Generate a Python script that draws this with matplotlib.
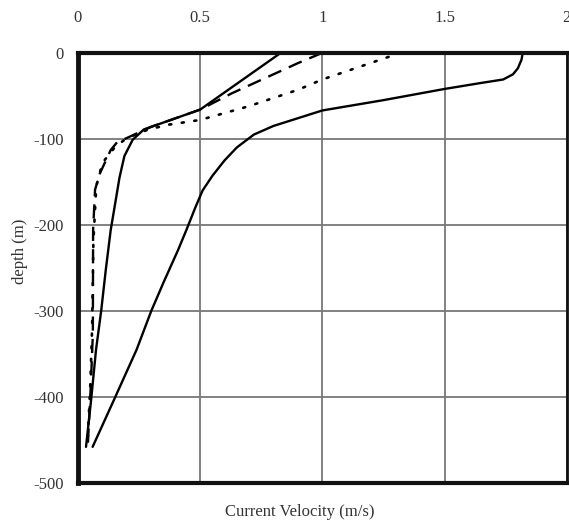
import matplotlib
matplotlib.use("Agg")
import matplotlib.pyplot as plt

# Velocity profiles (m/s) against depth (m)
depth_a = [0, -8, -18, -25, -31, -35, -42, -55, -67, -76, -85, -95, -110, -125, -143, -160, -180, -205, -229, -267, -300, -345, -403, -458]
vel_a = [1.82, 1.815, 1.80, 1.78, 1.74, 1.65, 1.50, 1.25, 1.00, 0.90, 0.80, 0.72, 0.65, 0.60, 0.55, 0.51, 0.48, 0.445, 0.41, 0.35, 0.30, 0.24, 0.148, 0.06]

depth_b = [0, -33, -66, -76, -83, -89, -101, -120, -145, -179, -206, -252, -300, -345, -403, -458]
vel_b = [0.83, 0.665, 0.50, 0.40, 0.33, 0.27, 0.224, 0.19, 0.17, 0.15, 0.134, 0.114, 0.095, 0.074, 0.054, 0.033]

depth_c = [0, -12, -47, -66, -76, -86, -99, -104, -113, -140, -159, -206, -326, -384, -458]
vel_c = [1.00, 0.90, 0.63, 0.50, 0.40, 0.30, 0.20, 0.16, 0.134, 0.09, 0.07, 0.062, 0.061, 0.053, 0.04]

depth_d = [0, -31, -43, -62, -78, -84, -90, -99, -110, -128, -155, -220, -320, -390, -458]
vel_d = [1.32, 1.00, 0.90, 0.70, 0.50, 0.36, 0.28, 0.20, 0.15, 0.10, 0.075, 0.063, 0.058, 0.05, 0.038]

x_ticks = [0, 0.5, 1, 1.5, 2]
x_tick_labels = ["0", "0.5", "1", "1.5", "2"]
y_ticks = [0, -100, -200, -300, -400, -500]
y_tick_labels = ["0", "-100", "-200", "-300", "-400", "-500"]

plt.rcParams["font.family"] = ["Liberation Serif", "DejaVu Serif"]

fig = plt.figure(figsize=(5.69, 5.23), dpi=100)
ax = fig.add_axes([0.137, 0.0765, 0.859, 0.8225])

ax.plot(vel_a, depth_a, color="black", lw=1.7, solid_capstyle="round", solid_joinstyle="round")
ax.plot(vel_b, depth_b, color="black", lw=1.7, solid_capstyle="round", solid_joinstyle="round")
ax.plot(vel_c, depth_c, color="black", lw=1.7, dashes=(6, 3.5))
ax.plot(vel_d, depth_d, color="black", lw=1.9, dashes=(0.8, 4), dash_capstyle="round")

ax.set_xlim(0, 2)
ax.set_ylim(-500, 0)
ax.set_xticks(x_ticks)
ax.set_xticklabels(x_tick_labels)
ax.set_yticks(y_ticks)
ax.set_yticklabels(y_tick_labels)
ax.xaxis.tick_top()
ax.tick_params(length=0, labelsize=12, colors="#333333")
ax.tick_params(axis="x", pad=19)
ax.tick_params(axis="y", pad=10)

ax.grid(True, color="#777777", lw=1.3)
ax.set_axisbelow(True)

for side, w in (("left", 3.5), ("top", 3.0), ("bottom", 3.0), ("right", 2.0)):
    ax.spines[side].set_linewidth(w)
    ax.spines[side].set_color("#111111")

fig.text(0.527, 0.021, "Current Velocity (m/s)", ha="center", va="center", fontsize=12, color="#333333")
fig.text(0.036, 0.52, "depth (m)", ha="center", va="center", rotation=90, fontsize=12, color="#333333")

fig.savefig("out.png", dpi=100)
